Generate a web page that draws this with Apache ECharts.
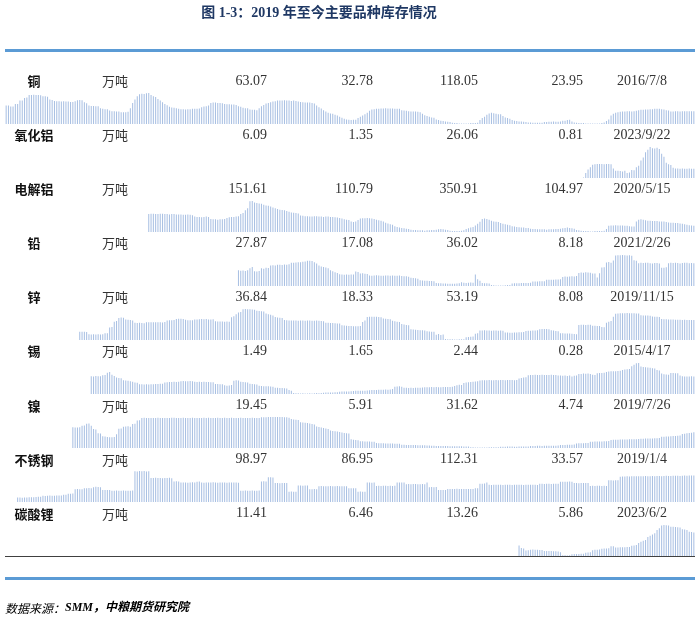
<!DOCTYPE html>
<html><head><meta charset="utf-8">
<script src="https://cdn.jsdelivr.net/npm/echarts@6/dist/echarts.min.js"></script>
<style>html,body{margin:0;padding:0;background:#fff}#c{width:700px;height:617px}</style>
</head><body><div id="c"></div>
<script>
// ---- data ----
const N = 300; // weekly bars across the full sparkline width
const categories = Array.from({length: N}, (_, i) => 'W' + (i + 1));
const names = ['铜','氧化铝','电解铝','铅','锌','锡','镍','不锈钢','碳酸锂'];
const units = ['万吨','万吨','万吨','万吨','万吨','万吨','万吨','万吨','万吨'];
const colCurrent = ['63.07','6.09','151.61','27.87','36.84','1.49','19.45','98.97','11.41'];
const colPrev = ['32.78','1.35','110.79','17.08','18.33','1.65','5.91','86.95','6.46'];
const colMax = ['118.05','26.06','350.91','36.02','53.19','2.44','31.62','112.31','13.26'];
const colMin = ['23.95','0.81','104.97','8.18','8.08','0.28','4.74','33.57','5.86'];
const colDate = ['2016/7/8','2023/9/22','2020/5/15','2021/2/26','2019/11/15','2015/4/17','2019/7/26','2019/1/4','2023/6/2'];
// sparkline vertical-axis floor per row (null = automatic, from the row's own minimum)
const axisFloor = [null, null, null, null, null, null, null, 55, null];

const copper = [80,80,77,77,85,85,95,95,103,104,112,112,113,112,112,111,108,108,107,98,97,94,93,93,92,93,92,92,91,91,93,96,97,96,90,87,80,79,79,78,78,72,70,69,69,65,63,63,62,62,60,60,60,61,72,88,98,108,114,116,115,117,118,112,108,106,100,95,90,85,81,76,74,73,72,70,69,69,68,69,69,70,70,70,71,75,77,78,80,88,89,89,88,88,87,85,84,84,83,83,82,78,76,73,72,72,68,67,67,66,72,78,82,86,88,90,92,93,95,95,95,96,95,95,94,95,94,92,91,90,89,89,89,88,86,80,75,71,66,62,58,56,55,52,50,46,43,40,38,37,36,37,37,42,46,50,54,58,64,68,69,70,70,71,71,72,71,71,71,70,70,70,66,65,64,63,62,62,62,61,60,55,51,48,46,44,43,38,36,34,33,32,31,30,28,27,27,26,26,26,26,26,27,27,27,28,36,42,46,52,56,58,57,55,54,54,48,44,42,40,36,34,33,32,32,31,30,29,29,28,28,28,28,28,30,30,31,31,32,31,31,32,34,34,36,37,32,29,28,27,27,27,26,26,26,26,26,26,26,27,29,33,38,50,55,58,60,61,62,62,63,63,62,63,64,66,67,67,68,68,69,69,70,70,70,69,68,66,65,62,62,63,63,62,63,63,63,63,63,63];
const alumina = [1.5,2.7,3.6,4.2,4.9,5.0,5.1,5.1,5.1,5.0,5.1,5.1,5.0,3.9,3.3,3.3,3.2,3.1,3.3,2.7,2.8,3.5,3.4,4.2,4.6,6.0,6.8,8.2,8.9,9.6,9.3,9.2,9.4,9.1,7.8,7.0,5.4,5.0,4.8,4.1,3.9,3.9,3.8,3.9,3.8,3.8,3.9,3.8,3.8];
const aluminium = [101,102,102,101,101,102,102,101,101,100,101,101,100,100,100,99,99,100,99,98,94,93,93,92,93,94,93,87,86,86,85,86,86,87,90,92,93,93,94,95,101,104,112,118,138,139,135,133,132,131,128,126,125,123,120,118,116,114,113,112,110,108,106,105,104,103,97,96,95,95,94,94,95,95,94,94,93,94,94,93,93,92,91,90,88,86,85,84,80,78,80,84,88,89,89,90,89,88,87,85,83,82,80,76,74,72,70,66,64,62,61,60,59,58,56,55,55,54,54,54,53,54,54,55,55,56,57,58,57,56,55,53,52,52,52,52,53,54,58,60,62,64,68,73,79,87,88,87,85,82,80,79,78,75,73,72,70,69,66,65,64,63,62,62,61,61,59,58,58,57,57,57,57,56,57,57,57,58,58,59,60,61,62,61,60,59,55,54,53,52,52,52,51,51,52,52,52,52,53,58,67,68,68,69,68,68,68,67,67,66,65,65,80,85,86,85,83,82,82,81,81,81,80,80,80,78,77,76,76,75,75,74,73,72,70,69,68,67];
const lead = [16.0,15.6,15.8,15.4,16.0,17.4,18.4,15.2,15.0,15.4,17.5,17.2,17.8,17.6,19.5,19.8,19.6,20.0,20.1,19.9,20.3,20.0,20.4,21.5,21.6,21.8,21.9,22.0,22.3,22.5,23.0,23.0,22.9,21.9,21.0,19.5,18.8,18.4,18.0,17.5,16.0,15.2,14.6,14.0,13.0,12.8,12.6,12.8,12.7,12.9,12.8,15.0,14.8,13.6,13.8,13.4,13.2,12.2,12.0,12.1,12.3,12.2,12.0,11.9,12.1,12.2,12.0,12.1,11.9,12.0,12.1,11.8,11.6,11.5,11.2,10.4,10.2,10.0,9.8,8.6,8.4,8.3,8.2,8.1,8.0,7.9,6.5,6.4,6.3,6.2,6.2,6.0,6.1,6.0,6.1,6.2,6.4,7.2,6.8,6.6,6.7,6.9,6.8,12.8,9.4,8.2,6.6,6.4,6.3,6.2,5.0,4.9,4.8,4.8,4.8,4.8,4.9,5.0,5.0,6.2,6.3,6.4,6.4,6.5,6.5,6.6,6.6,6.7,7.6,7.7,7.6,7.8,7.9,7.9,8.9,9.0,8.9,9.0,9.1,9.2,9.3,11.0,11.3,11.2,11.4,11.6,11.4,11.8,14.0,14.4,14.2,14.5,14.3,14.2,13.6,13.6,10.6,13.7,18.0,18.2,21.8,22.2,21.6,23.3,27.0,27.2,27.1,27.3,27.2,27.0,27.2,26.8,23.4,23.0,21.2,21.6,21.4,21.6,21.6,21.2,21.0,21.4,21.3,21.0,17.8,17.8,18.2,21.2,21.5,21.3,21.6,21.4,21.0,21.3,21.5,21.6,21.2,21.4,21.1];
const zinc = [18.3,18.0,18.3,17.8,14.2,14.0,14.1,13.9,14.1,14.0,14.3,15.7,16.0,24.5,25.5,33.5,34.6,39.2,39.8,39.4,37.0,36.4,36.0,35.4,32.0,31.6,31.8,31.5,31.2,32.5,32.8,32.6,32.8,32.5,32.8,32.6,32.4,32.9,35.2,35.6,35.8,36.0,37.6,38.0,38.2,37.8,36.4,35.8,35.6,35.9,36.8,37.0,37.2,37.5,37.2,37.6,37.0,36.8,37.2,34.2,34.0,33.8,34.0,33.6,33.8,33.5,40.5,42.0,45.0,47.5,48.5,52.6,53.0,52.8,52.6,52.2,52.0,50.5,50.0,49.6,49.0,46.0,45.0,44.2,43.0,40.6,40.0,39.6,39.2,36.0,35.6,35.4,35.5,35.2,35.4,35.0,35.3,35.2,35.0,35.3,35.4,35.1,35.0,35.2,34.8,34.6,34.4,32.0,31.8,31.6,31.4,31.0,30.8,30.6,28.0,27.6,27.4,27.0,26.8,26.6,26.4,26.6,27.0,33.0,35.5,40.6,41.0,41.2,41.2,41.0,40.8,40.2,38.4,38.0,37.6,37.2,34.8,34.2,33.6,33.0,30.0,29.2,28.6,28.0,22.0,21.4,21.0,20.8,20.6,20.4,20.2,19.0,18.4,18.2,18.0,13.5,14.6,13.0,13.8,7.0,6.8,6.6,6.5,6.4,6.4,6.5,6.6,6.8,9.8,10.2,10.6,11.0,15.0,16.0,20.0,20.2,20.4,20.2,20.0,19.8,20.0,20.2,19.8,20.0,19.6,17.0,16.8,16.6,16.6,16.8,17.0,17.2,17.4,17.8,19.4,19.6,19.8,20.0,20.2,20.4,22.0,22.2,22.4,22.2,22.0,20.6,20.0,19.4,18.8,16.0,15.8,15.6,15.6,15.4,15.2,14.6,14.4,28.4,28.8,29.0,28.6,29.0,28.8,27.4,27.2,27.0,26.8,25.4,25.0,32.0,33.4,34.6,41.0,45.6,46.0,46.4,46.4,46.6,46.8,46.6,46.4,46.6,46.2,46.0,43.4,43.2,43.0,43.2,42.8,41.6,41.2,41.0,40.8,37.6,37.4,37.2,37.0,37.0,36.8,36.6,36.6,36.4,36.2,36.4,36.2,36.0,36.2,36.0];
const tin = [1.52,1.50,1.53,1.51,1.52,1.58,1.60,1.76,1.81,1.62,1.54,1.42,1.40,1.38,1.24,1.22,1.20,1.16,1.14,1.08,1.06,0.96,0.95,0.94,0.95,0.94,0.96,0.95,0.98,0.97,0.99,1.00,1.08,1.10,1.12,1.11,1.13,1.12,1.14,1.16,1.18,1.17,1.16,1.18,1.17,1.13,1.12,1.14,1.12,1.13,1.11,1.12,1.10,1.09,0.98,0.97,0.96,0.95,0.88,0.86,0.87,0.90,1.20,1.24,1.22,1.14,1.12,1.10,1.08,0.99,0.97,0.96,0.94,0.85,0.83,0.82,0.82,0.81,0.80,0.78,0.72,0.71,0.70,0.69,0.68,0.66,0.55,0.50,0.34,0.33,0.33,0.32,0.33,0.32,0.32,0.33,0.32,0.33,0.34,0.33,0.35,0.37,0.38,0.39,0.38,0.39,0.40,0.40,0.44,0.45,0.46,0.45,0.46,0.47,0.49,0.50,0.50,0.51,0.50,0.51,0.52,0.54,0.55,0.55,0.56,0.57,0.58,0.58,0.59,0.58,0.60,0.62,0.78,0.80,0.81,0.79,0.72,0.71,0.70,0.71,0.70,0.71,0.72,0.72,0.73,0.74,0.75,0.74,0.76,0.75,0.76,0.75,0.74,0.76,0.77,0.76,0.77,0.78,0.84,0.88,0.92,0.90,1.05,1.08,1.10,1.12,1.14,1.15,1.16,1.22,1.24,1.23,1.24,1.25,1.24,1.23,1.25,1.24,1.26,1.25,1.24,1.25,1.26,1.25,1.24,1.26,1.36,1.40,1.42,1.44,1.58,1.60,1.61,1.62,1.60,1.61,1.62,1.60,1.61,1.60,1.62,1.61,1.60,1.57,1.56,1.55,1.56,1.54,1.56,1.50,1.55,1.57,1.67,1.68,1.70,1.69,1.70,1.68,1.62,1.61,1.72,1.74,1.75,1.76,1.82,1.84,1.86,1.87,1.86,1.88,1.90,1.96,1.98,2.00,2.02,2.22,2.32,2.42,2.44,2.20,2.16,2.14,2.12,2.10,2.08,2.06,1.95,1.92,1.70,1.66,1.64,1.62,1.74,1.75,1.73,1.72,1.56,1.52,1.50,1.50,1.49,1.51,1.49];
const nickel = [22.8,22.6,22.7,22.9,24.2,24.4,25.8,26.0,24.2,21.4,20.8,17.6,17.4,15.2,15.0,14.4,14.2,14.3,14.4,16.8,21.6,21.8,23.2,23.4,23.6,23.3,25.6,25.8,28.6,28.8,30.8,30.9,30.8,30.8,30.7,30.8,30.8,30.9,30.8,30.8,30.7,30.8,30.8,30.9,30.9,30.8,30.8,30.8,30.9,30.8,30.8,30.8,30.9,30.8,30.8,30.8,30.8,30.9,30.8,30.9,30.8,30.8,30.8,30.9,30.8,30.8,30.9,30.8,30.8,30.9,30.8,30.8,30.8,30.9,30.8,30.7,30.8,30.8,30.9,30.8,30.8,30.8,31.3,31.4,31.4,31.5,31.5,31.5,31.6,31.5,31.5,31.6,31.4,31.3,31.0,29.8,29.4,29.2,29.0,27.2,26.8,26.6,26.4,26.0,25.6,25.2,23.4,23.0,22.6,22.2,21.8,21.4,20.0,19.7,19.4,19.1,18.8,18.4,18.0,17.6,17.4,12.6,12.2,12.0,11.8,10.9,10.8,10.7,10.6,10.6,10.5,10.4,9.3,9.2,9.2,9.1,9.0,9.0,8.9,8.9,8.8,8.8,8.7,7.8,7.8,7.7,7.7,7.6,7.6,7.6,7.5,7.5,7.4,7.4,7.3,7.3,6.9,6.9,6.8,6.8,6.8,6.7,6.7,6.7,6.6,6.6,6.6,6.5,6.5,6.5,6.4,6.4,6.3,5.7,5.7,5.6,5.6,5.6,5.6,5.6,5.6,5.7,5.7,5.7,5.7,5.8,6.2,6.2,6.2,6.3,6.3,6.3,6.2,6.2,6.3,6.3,6.4,6.4,6.4,6.8,6.8,6.8,6.9,6.9,6.8,6.9,6.9,7.0,7.0,7.0,7.1,7.2,7.6,7.7,7.7,7.8,7.8,7.9,8.0,9.0,9.1,9.2,9.2,9.3,9.4,10.4,10.5,10.6,10.6,10.7,10.7,10.8,10.9,11.0,12.0,12.1,12.2,12.2,12.3,12.3,12.4,12.4,12.5,12.5,12.6,12.6,12.7,13.0,13.1,13.2,13.2,13.3,13.3,13.4,13.5,13.6,14.6,14.8,14.9,15.0,15.2,15.3,15.4,15.6,15.8,17.0,17.3,17.6,17.9,18.2,18.6];
const stainless = [63.4,63.2,63.0,63.2,63.3,63.8,64.0,63.9,64.2,64.6,64.8,66.4,66.2,66.6,66.8,66.5,66.6,66.8,67.0,67.2,68.3,68.4,70.2,70.4,70.6,78.6,78.8,78.4,78.6,80.4,80.6,80.8,80.5,82.4,83.0,82.6,82.2,77.2,77.0,77.4,77.1,76.0,75.8,76.1,75.9,76.0,76.2,75.8,76.0,75.9,76.1,112.0,111.6,112.2,111.8,112.3,111.6,111.9,99.4,99.2,99.6,99.3,99.5,99.0,99.4,99.2,99.6,99.0,93.0,93.2,92.8,91.0,91.2,91.0,90.8,91.2,91.4,91.0,92.6,93.0,91.0,90.8,91.2,91.0,91.2,91.4,91.0,90.8,91.0,91.2,91.0,90.8,91.1,91.0,91.2,91.0,90.8,76.0,75.8,76.1,75.9,76.0,76.2,75.8,76.0,76.1,93.0,93.2,93.0,100.6,100.8,100.4,90.0,90.2,89.8,90.0,90.1,89.9,74.0,74.2,73.8,74.0,85.4,85.6,85.2,85.4,85.3,78.6,78.4,78.8,78.5,84.2,84.4,84.0,84.3,84.1,84.5,84.2,84.0,84.4,84.3,84.1,84.2,84.0,80.4,80.6,80.2,80.5,74.0,74.2,73.8,74.1,91.0,91.2,90.8,91.1,84.8,85.0,84.6,84.9,85.2,84.8,85.0,84.7,85.1,91.0,91.2,91.1,90.9,88.0,88.2,87.8,88.1,88.3,87.9,88.0,88.2,88.0,91.0,82.4,82.6,82.2,82.5,77.2,77.0,77.4,77.1,79.0,79.2,78.8,79.1,79.3,78.9,79.0,79.2,78.8,79.1,79.0,79.2,80.4,80.6,88.6,88.8,89.0,91.0,86.8,86.6,87.0,86.7,86.9,86.8,86.5,86.9,87.0,86.8,86.6,86.9,86.7,86.8,87.0,86.6,86.9,86.8,86.7,86.9,86.8,86.6,88.6,88.8,88.4,88.7,88.9,88.5,88.8,88.6,88.7,92.4,92.6,92.2,92.5,92.7,92.3,90.0,90.2,89.8,90.1,90.0,89.9,90.2,84.8,85.0,84.6,84.9,85.1,84.8,85.0,84.7,95.0,95.2,94.8,95.1,95.0,101.8,102.0,102.2,102.4,102.2,102.6,102.4,102.8,102.6,102.4,102.8,103.0,102.8,102.6,103.0,102.8,103.2,103.0,102.8,103.2,103.4,103.2,103.0,103.4,103.6,103.4,103.2,103.6,103.8,103.6,103.8,104.0,104.2];
const lithium = [8.26,7.70,7.60,7.10,7.15,7.30,7.32,7.28,7.25,7.22,7.20,7.00,6.98,6.96,6.95,6.92,6.90,6.88,6.66,5.95,5.93,5.92,5.94,6.20,6.24,6.26,6.28,6.30,6.32,6.56,6.62,6.68,7.18,7.25,7.30,7.32,7.50,7.55,7.60,7.62,8.10,8.08,7.80,7.84,7.86,7.88,7.90,7.92,7.96,8.20,8.30,8.40,8.90,9.20,9.40,9.60,10.30,10.60,10.90,11.20,12.00,12.40,13.10,13.20,13.16,13.10,12.80,12.76,12.70,12.66,12.60,12.20,12.10,12.00,11.60,11.50,11.41];

// ---- build ----
const rows = [copper, alumina, aluminium, lead, zinc, tin, nickel, stainless, lithium];
const pad = arr => Array(Math.max(0, N - arr.length)).fill(null).concat(arr.slice(-N));

const grid = [], xAxis = [], yAxis = [], series = [];
rows.forEach((arr, i) => {
  const bottom = 124 + 54 * i;
  const floor = axisFloor[i];
  grid.push({left: 5, width: 690, top: bottom - 31, height: 31});
  xAxis.push({type: 'category', gridIndex: i, data: categories, show: false, boundaryGap: true});
  yAxis.push({type: 'value', gridIndex: i, show: false, scale: true,
    min: v => floor != null ? floor : v.min - (v.max - v.min) * 0.02, max: v => v.max});
  series.push({type: 'bar', xAxisIndex: i, yAxisIndex: i, data: pad(arr), barWidth: 1,
    itemStyle: {color: '#a6bee2'}, silent: true, animation: false});
});

const numFont = "'Liberation Serif','Noto Sans CJK SC',serif";
const cjkFont = "'Noto Sans CJK SC','Liberation Serif',serif";
const graphics = [];
const txt = (x, y, text, align, style) => graphics.push({type: 'text', x, y, silent: true,
  style: Object.assign({text, textAlign: align, textVerticalAlign: 'middle'}, style)});

txt(319, 13, '图 1-3：2019 年至今主要品种库存情况', 'center',
  {font: "bold 14px 'Liberation Serif','Noto Sans CJK SC',serif", fill: '#1f3864'});
graphics.push({type: 'rect', shape: {x: 5, y: 49, width: 690, height: 3}, style: {fill: '#5b9bd5'}, silent: true});
graphics.push({type: 'line', shape: {x1: 5, y1: 556.5, x2: 695, y2: 556.5}, style: {stroke: '#404040', lineWidth: 1}, silent: true, z: 10});
graphics.push({type: 'rect', shape: {x: 5, y: 577, width: 690, height: 3}, style: {fill: '#5b9bd5'}, silent: true});

names.forEach((n, i) => {
  const y = 81 + 54.1 * i;
  txt(34, y, n, 'center', {font: "bold 13px " + cjkFont, fill: '#111'});
  txt(115, y, units[i], 'center', {font: "13px " + cjkFont, fill: '#333'});
  txt(267, y, colCurrent[i], 'right', {font: "14px " + numFont, fill: '#333'});
  txt(373, y, colPrev[i], 'right', {font: "14px " + numFont, fill: '#333'});
  txt(478, y, colMax[i], 'right', {font: "14px " + numFont, fill: '#333'});
  txt(583, y, colMin[i], 'right', {font: "14px " + numFont, fill: '#333'});
  txt(642, y, colDate[i], 'center', {font: "14px " + numFont, fill: '#333'});
});

graphics.push({type: 'text', x: 5, y: 608, silent: true, style: {
  text: '{a|数据来源：}{b|SMM，中粮期货研究院}', textVerticalAlign: 'middle',
  rich: {
    a: {fontSize: 12, fontStyle: 'italic', fontFamily: cjkFont, color: '#8497b0'},
    b: {fontSize: 12, fontStyle: 'italic', fontWeight: 'bold', fontFamily: numFont, color: '#1f3864'}
  }}});

const chart = echarts.init(document.getElementById('c'), null, {renderer: 'canvas'});
chart.setOption({animation: false, backgroundColor: '#fff', grid, xAxis, yAxis, series, graphic: graphics});
</script></body></html>
